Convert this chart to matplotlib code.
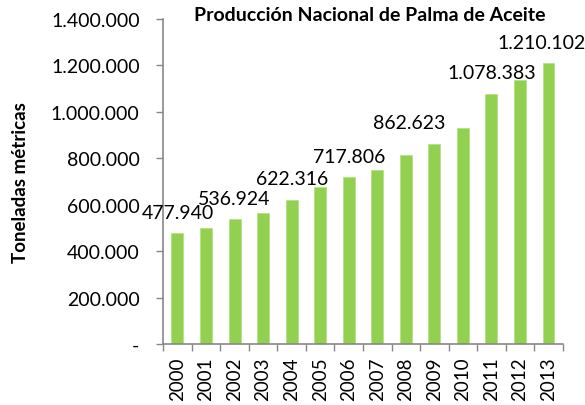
import matplotlib
matplotlib.use("Agg")
from matplotlib import pyplot as plt
from matplotlib.ticker import FuncFormatter, FixedLocator

years = ["2000", "2001", "2002", "2003", "2004", "2005", "2006",
         "2007", "2008", "2009", "2010", "2011", "2012", "2013"]
production = [477940, 500000, 536924, 565000, 622316, 675000, 717806,
              751000, 815000, 862623, 929000, 1078383, 1139000, 1210102]
labeled_years = ["2000", "2002", "2004", "2006", "2009", "2011", "2013"]
# horizontal shift (in category units) used for a few labels in the original
label_shift = {"2009": -0.87, "2013": -0.25}

plt.rcParams['font.family'] = ['Lato', 'DejaVu Sans']


def thousands(v, pos=None):
    if v == 0:
        return "-"
    return f"{int(v):,}".replace(",", ".")


fig = plt.figure(figsize=(5.85, 4.06), dpi=100)
ax = fig.add_axes([0.279, 0.150, 0.683, 0.801])

x = list(range(len(years)))
ax.bar(x, production, width=0.42, color="#92D050", edgecolor="#B5E08A",
       linewidth=0.6)

for i, (yr, v) in enumerate(zip(years, production)):
    if yr in labeled_years:
        ax.annotate(thousands(v), (i + label_shift.get(yr, 0), v),
                    xytext=(0, 9), textcoords="offset points",
                    ha="center", va="bottom", fontsize=14)

ax.set_xlim(-0.5, len(years) - 0.5)
ax.set_ylim(0, 1400000)
ax.set_yticks(range(0, 1400001, 200000))
ax.yaxis.set_major_formatter(FuncFormatter(thousands))
ax.set_xticks(x)
ax.set_xticklabels(years, rotation=90, fontsize=13.5)
ax.xaxis.set_minor_locator(FixedLocator([i - 0.5 for i in range(len(years) + 1)]))
ax.tick_params(axis="x", which="major", length=0, pad=9)
ax.tick_params(axis="x", which="minor", length=5, color="#888888", width=1)
ax.tick_params(axis="y", length=5, color="#888888", width=1, labelsize=14, pad=12)

for s in ["top", "right"]:
    ax.spines[s].set_visible(False)
for s in ["left", "bottom"]:
    ax.spines[s].set_color("#888888")
    ax.spines[s].set_linewidth(1.2)

ax.set_ylabel("Toneladas métricas", fontsize=13.5, fontweight="bold", labelpad=16)
fig.text(0.632, 0.963, "Producción Nacional de Palma de Aceite",
         ha="center", va="center", fontsize=14, fontweight="bold")

fig.savefig("out.png", dpi=100)
